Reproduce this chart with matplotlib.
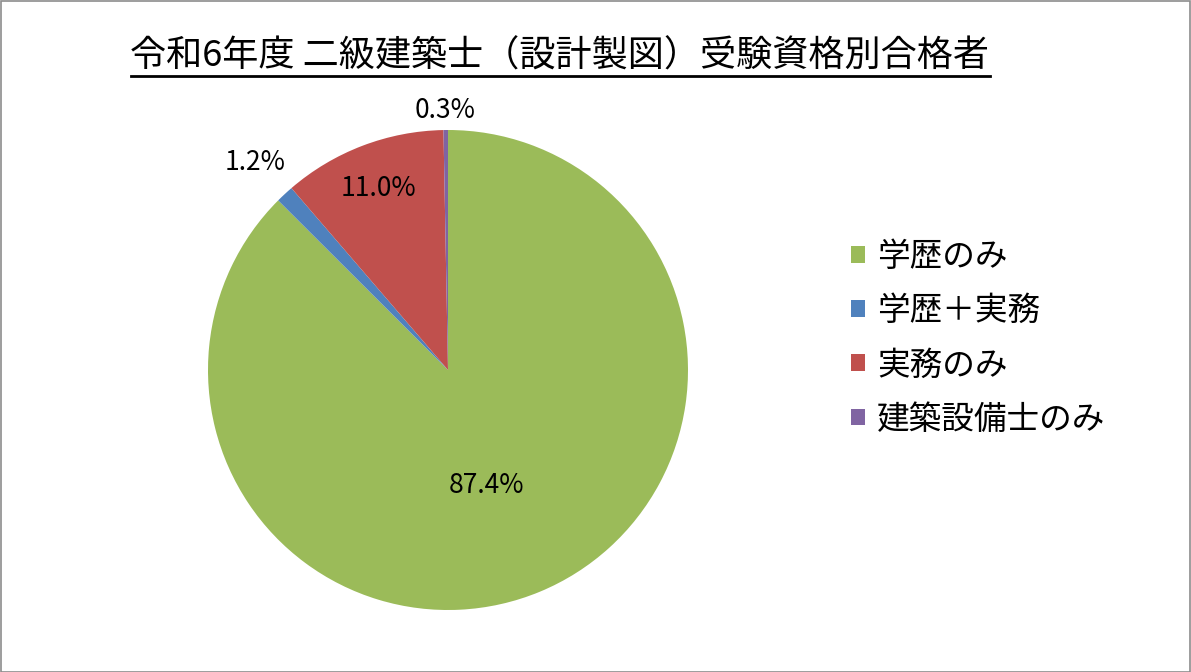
import matplotlib
matplotlib.use('Agg')
import matplotlib.pyplot as plt
from matplotlib.lines import Line2D
from matplotlib.patches import Rectangle
import numpy as np

plt.rcParams['font.family'] = ['Noto Sans CJK JP', 'DejaVu Sans']

title = '令和6年度 二級建築士（設計製図）受験資格別合格者'
categories = ['学歴のみ', '学歴＋実務', '実務のみ', '建築設備士のみ']
shares = [87.4, 1.2, 11.0, 0.3]
pct_labels = ['87.4%', '1.2%', '11.0%', '0.3%']

colors = ['#9BBB59', '#4F81BD', '#C0504D', '#8064A2']
label_dist = [0.52, 1.18, 0.81, 1.08]

W, H = 1191, 672
fig = plt.figure(figsize=(W / 100, H / 100), dpi=100)

# pie axes: centre (448, 370) px, radius 240 px
cx, cy, r = 448, 370, 240
ax = fig.add_axes([(cx - r) / W, (H - cy - r) / H, 2 * r / W, 2 * r / H])
wedges, _ = ax.pie(shares, colors=colors, startangle=90, counterclock=False,
                   radius=1, wedgeprops=dict(linewidth=0))
ax.set_xlim(-1, 1)
ax.set_ylim(-1, 1)
ax.set_aspect('equal')
ax.axis('off')

for w, txt, d in zip(wedges, pct_labels, label_dist):
    mid = np.deg2rad((w.theta1 + w.theta2) / 2)
    ax.text(d * np.cos(mid) - 0.04 * (txt == '87.4%'), d * np.sin(mid), txt,
            ha='center', va='center', fontsize=19, color='black', clip_on=False)

leg = fig.legend(wedges, categories, loc='upper left',
                 bbox_to_anchor=(838 / W, 1 - 228 / H), frameon=False,
                 fontsize=23.5, handlelength=0.42, handleheight=0.42,
                 handletextpad=0.38, labelspacing=0.68, borderaxespad=0)

t = fig.text(560 / W, 1 - 57 / H, title, ha='center', va='center', fontsize=26)

# underline the title
fig.canvas.draw()
bb = t.get_window_extent().transformed(fig.transFigure.inverted())
fig.add_artist(Line2D([bb.x0, bb.x1], [1 - 76 / H] * 2, color='black', lw=2,
                      transform=fig.transFigure))

fig.add_artist(Rectangle((0.5 / W, 0.5 / H), 1 - 1.5 / W, 1 - 1.5 / H,
                         transform=fig.transFigure, fill=False,
                         edgecolor='#8c8c8c', lw=1.2))

fig.savefig('out.png', dpi=100)
